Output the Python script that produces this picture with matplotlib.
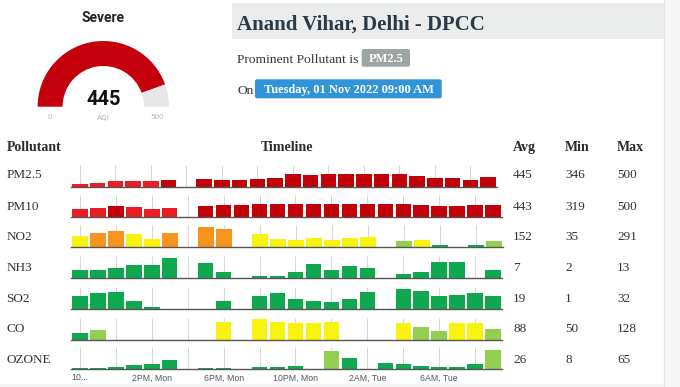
import numpy as np
import matplotlib
matplotlib.use("Agg")
import matplotlib.pyplot as plt
from matplotlib.patches import Wedge, Rectangle, FancyBboxPatch

nan = np.nan

# ---- data ----
STATION = "Anand Vihar, Delhi - DPCC"
PROMINENT = "PM2.5"
TIMESTAMP = "Tuesday, 01 Nov 2022 09:00 AM"
AQI_VALUE = 445
AQI_MAX = 500
AQI_CATEGORY = "Severe"

POLLUTANTS = ["PM2.5", "PM10", "NO2", "NH3", "SO2", "CO", "OZONE"]
AVG = [445, 443, 152, 7, 19, 88, 26]
MIN = [346, 319, 35, 2, 1, 50, 8]
MAX = [500, 500, 291, 13, 32, 128, 65]

TIME_LABELS = ["10...", "2PM, Mon", "6PM, Mon", "10PM, Mon", "2AM, Tue", "6AM, Tue"]

# hourly sub-index values, 10AM Mon -> 9AM Tue (nan = no reading)
PM25 = [346, 361, 386, 386, 386, 410, nan, 420, 410, 415, 430, 440,
        490, 480, 500, 490, 490, 490, 500, 475, 440, 440, 415, 455]
PM10 = [319, 366, 433, 393, 330, 366, nan, 433, 473, 473, 500, 500,
        500, 500, 500, 500, 500, 500, 500, 473, 420, 420, 473, 473]
NO2 = [168, 215, 234, 191, 120, 205, nan, 291, 267, nan, 196, 125,
       111, 135, 111, 139, 149, nan, 97, 111, 35, nan, 45, 95]
NH3 = [5.5, 5.5, 6.8, 8.8, 8.8, 13.0, nan, 9.7, 4.5, nan, 2.0, 2.0,
       4.5, 9.0, 5.5, 8.0, 7.0, nan, 3.0, 4.5, 10.7, 10.7, nan, 5.5]
SO2 = [20.6, 24.6, 26.3, 11.4, 1.0, nan, nan, nan, 11.4, nan, 20.0, 24.6,
       14.2, 11.4, 9.7, 15.4, 26.3, nan, 32.0, 28.0, 20.0, 21.7, 24.6, 20.0]
CO = [50, 65.5, nan, nan, nan, nan, nan, nan, 114, nan, 128, 114,
      108, 108, 114, nan, nan, nan, 108, 81, 62, 108, 104.5, 71]
OZONE = [8, 9, 12, 17.5, 23, 34.4, nan, 9, 9, nan, 12, 11,
         15.4, nan, 62.9, 39.6, nan, 26, 20.6, 14.3, 12, 12, 23, 65]

SERIES = [PM25, PM10, NO2, NH3, SO2, CO, OZONE]

# per-row value range of each sparkline
ROW_YLIM = [(311, 639), (-7, 873), (6.6, 319), (0.34, 14.0),
            (-2.4, 35.5), (7, 135.7), (4.8, 74.5)]

AQI_BREAKS = [50, 100, 200, 300, 400]
AQI_COLORS = ["#10a84f", "#92cf50", "#f7f30e", "#f7941d", "#ec1c24", "#c20009"]

# ---- layout (pixels) ----
W, H = 680, 387
SERIF = ["Liberation Serif", "DejaVu Serif"]
SANS = ["Roboto", "DejaVu Sans"]
TEXT = "#333333"
ROW_BASE = [186.5, 217, 247.3, 278.3, 309, 340, 369.3]
ROW_RIGHT = [497, 502, 503, 502, 502, 502, 502]
ROW_TEXT = [178.3, 209.5, 240.5, 271, 301.7, 332.3, 363.3]
ROW_H = 22
LEFT = 71


def Y(y):
    return H - y


def aqi_color(v):
    if np.isnan(v):
        return "none"
    return AQI_COLORS[int(np.searchsorted(AQI_BREAKS, v, side="left"))]


fig = plt.figure(figsize=(W / 100, H / 100), dpi=100)
bg = fig.add_axes([0, 0, 1, 1])
bg.set_xlim(0, W)
bg.set_ylim(0, H)
bg.axis("off")

# page frame
bg.add_patch(Rectangle((664, 0), W - 664, H, color="#f7f7f7", lw=0))
bg.axvline(664, color="#e6e6e6", lw=1)
bg.add_patch(Rectangle((0, 0), 664, Y(383.5), color="#f3f3f3", lw=0))

# gauge
cx, cy, r_out, ring = 103.3, Y(106.7), 65.7, 25
split = 180 * (1 - AQI_VALUE / AQI_MAX)
bg.add_patch(Wedge((cx, cy), r_out, split, 180, width=ring, color="#c4000c", lw=0))
bg.add_patch(Wedge((cx, cy), r_out, 0, split, width=ring, color="#e8e6e8", lw=0))
bg.text(cx, Y(21.7), AQI_CATEGORY, family=SANS, weight="bold", fontsize=10,
        ha="center", va="baseline", color="#222222")
bg.text(cx, Y(105), str(AQI_VALUE), family=SANS, weight="bold", fontsize=14.5,
        ha="center", va="baseline", color="#111111")
for x, s in [(50, "0"), (cx, "AQI"), (157, str(AQI_MAX))]:
    bg.text(x, Y(119.3), s, family=SANS, fontsize=5.8, ha="center",
            va="baseline", color="#b8b8b8")

# header band
bg.add_patch(Rectangle((232, Y(39.3)), 664 - 232, 39.3 - 2.7, color="#eaedec", lw=0))
bg.text(237, Y(30), STATION, family=SERIF, weight="bold", fontsize=15,
        ha="left", va="baseline", color="#2c3a48")
bg.text(237, Y(63.3), "Prominent Pollutant is", family=SERIF, fontsize=9.7,
        ha="left", va="baseline", color=TEXT)
bg.add_patch(FancyBboxPatch((361.7, Y(66.7)), 48.3, 17.7,
                            boxstyle="round,pad=0,rounding_size=2",
                            color="#9ea3a3", lw=0))
bg.text(386, Y(62.3), PROMINENT, family=SERIF, weight="bold", fontsize=9,
        ha="center", va="baseline", color="white")
bg.text(237, Y(94), "On", family=SERIF, fontsize=9.7, ha="left",
        va="baseline", color=TEXT)
bg.add_patch(FancyBboxPatch((255, Y(98.3)), 186.7, 19,
                            boxstyle="round,pad=0,rounding_size=2",
                            color="#3193d9", lw=0))
bg.text(348.5, Y(92.7), TIMESTAMP, family=SERIF, weight="bold", fontsize=9,
        ha="center", va="baseline", color="white")

# table header
for x, s, ha in [(6.5, "Pollutant", "left"), (287.5, "Timeline", "center"),
                 (513, "Avg", "left"), (565, "Min", "left"), (617, "Max", "left")]:
    bg.text(x, Y(150.7), s, family=SERIF, weight="bold", fontsize=10,
            ha=ha, va="baseline", color="#2b2b2b")

# rows
slots = np.arange(24) + 0.5
for i, name in enumerate(POLLUTANTS):
    yb = ROW_TEXT[i]
    bg.text(6.5, Y(yb), name, family=SERIF, fontsize=9.5, ha="left",
            va="baseline", color=TEXT)
    for x, v in [(513, AVG[i]), (565, MIN[i]), (617, MAX[i])]:
        bg.text(x, Y(yb), str(v), family=SERIF, fontsize=9.5, ha="left",
                va="baseline", color=TEXT)

    lo, hi = ROW_YLIM[i]
    ax = fig.add_axes([LEFT / W, Y(ROW_BASE[i]) / H,
                       (ROW_RIGHT[i] - LEFT) / W, ROW_H / H])
    ax.patch.set_alpha(0)
    vals = np.array(SERIES[i], dtype=float)
    ax.vlines(slots[::2], lo, hi, color="#d6d6d6", lw=0.7, zorder=0)
    ax.bar(slots, vals - lo, bottom=lo, width=0.86,
           color=[aqi_color(v) for v in vals], lw=0, zorder=2)
    ax.set_xlim(0, 24)
    ax.set_ylim(lo, hi)
    for side in ["top", "left", "right"]:
        ax.spines[side].set_visible(False)
    ax.spines["bottom"].set_color("#555555")
    ax.spines["bottom"].set_linewidth(1.0)
    ax.set_yticks([])
    if i == len(POLLUTANTS) - 1:
        ax.set_xticks(slots[::4])
        ax.set_xticklabels(TIME_LABELS, fontsize=6.3, color="#555555",
                           family=["Liberation Sans", "DejaVu Sans"])
        ax.tick_params(axis="x", length=0, pad=3)
    else:
        ax.set_xticks([])

fig.savefig("out.png", dpi=100)
